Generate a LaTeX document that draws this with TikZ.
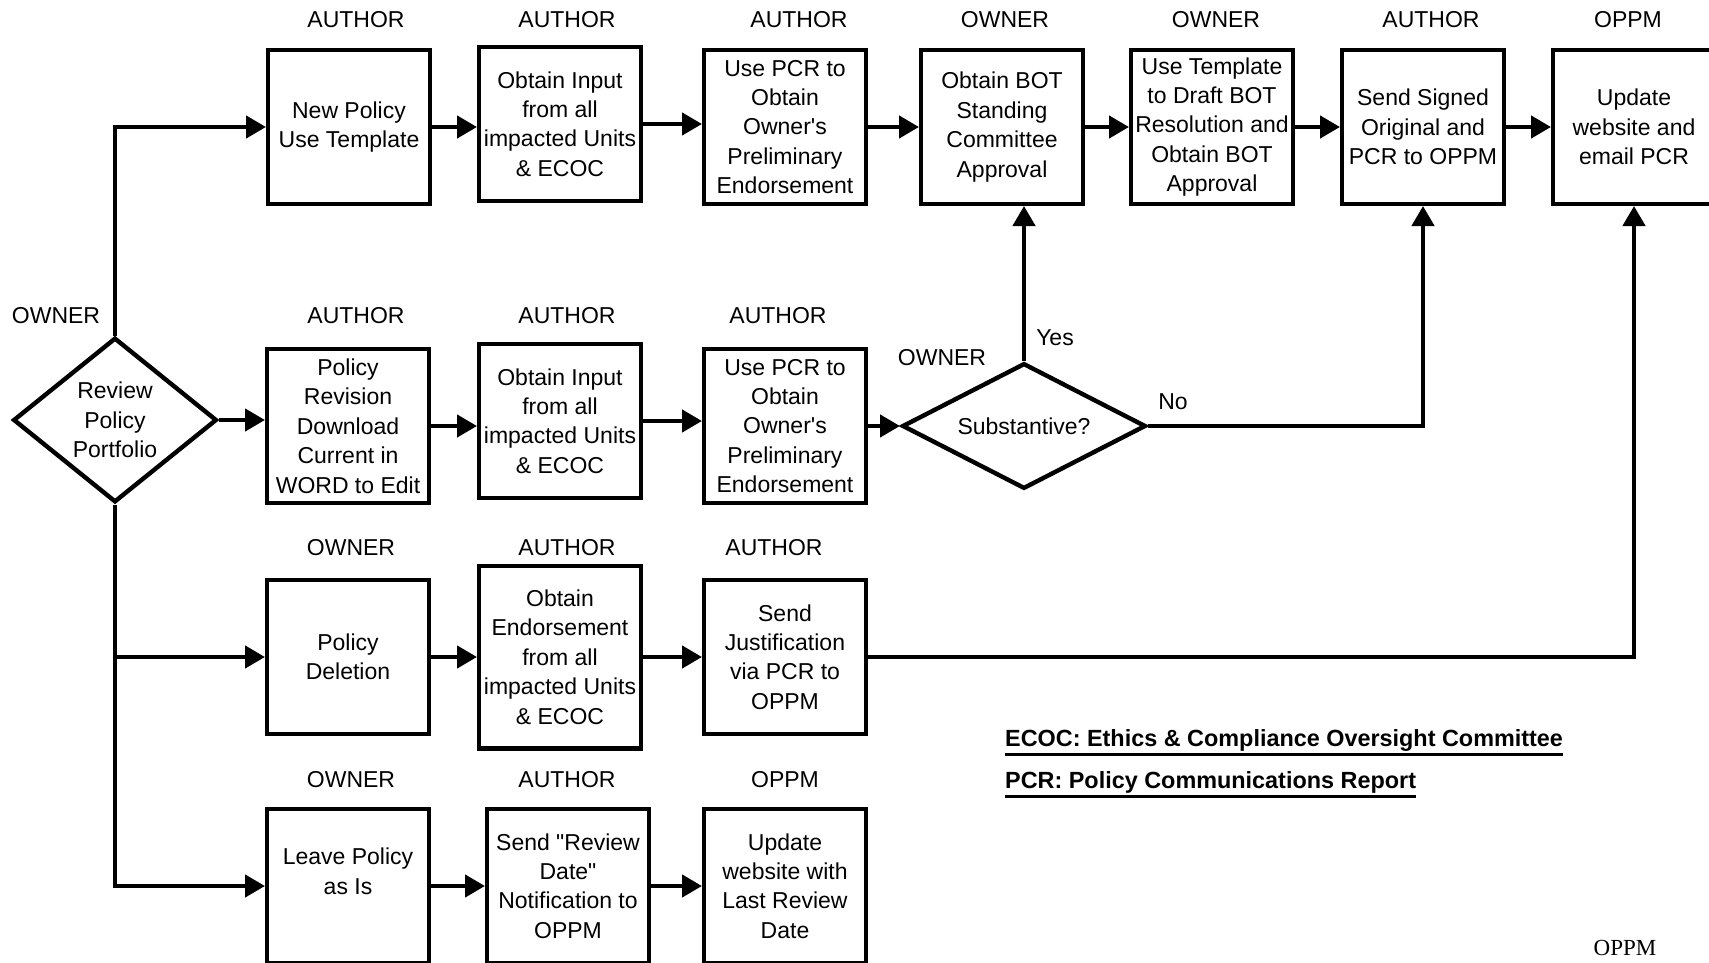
\documentclass[tikz,border=0pt]{standalone}
\usepackage{fontspec}
\setmainfont{Liberation Sans}
\newfontfamily\timesfont{Liberation Serif}
\usetikzlibrary{shapes.geometric,arrows.meta}
\newcommand\ulthick[1]{\setbox0\hbox{#1}\rlap{\rule[-5pt]{\wd0}{1.4pt}}\box0}

\begin{document}
\begin{tikzpicture}[x=0.5pt,y=-0.5pt,line width=2.2pt,
 font=\fontsize{11.5pt}{14.7pt}\selectfont,
 >={Triangle[length=10pt,width=11pt]},
 s/.style={draw,align=center,inner sep=0pt,minimum width=80.8pt,minimum height=76.8pt},
 d/.style={draw,diamond,align=center,inner sep=0pt},
 r/.style={inner sep=0pt}]
\useasboundingbox (0,0) rectangle (1709,963);
\clip (0,0) rectangle (1709,963);
% top row: new policy
\node[s](np) at (349,127){New Policy\\Use Template};
\node[s](oi) at (560,124){Obtain Input\\from all\\impacted Units\\\& ECOC};
\node[s](up) at (785,127){Use PCR to\\Obtain\\Owner\textquotesingle s\\Preliminary\\Endorsement};
\node[s](bot) at (1002,127){Obtain BOT\\Standing\\Committee\\Approval};
\node[s](tpl) at (1212,127){Use Template\\to Draft BOT\\Resolution and\\Obtain BOT\\Approval};
\node[s](sso) at (1423,127){Send Signed\\Original and\\PCR to OPPM};
\node[s](web) at (1634,127){Update\\website and\\email PCR};
% second row: revision
\node[d,aspect=1.23,minimum width=101.8pt,minimum height=82.3pt](rev) at (115,420){Review\\Policy\\Portfolio};
\node[s](pr) at (348,426){Policy\\Revision\\Download\\Current in\\WORD to Edit};
\node[s](oi2) at (560,421){Obtain Input\\from all\\impacted Units\\\& ECOC};
\node[s](up2) at (785,426){Use PCR to\\Obtain\\Owner\textquotesingle s\\Preliminary\\Endorsement};
\node[d,aspect=1.92,minimum width=121.8pt,minimum height=62.8pt](sub) at (1024,426){Substantive?};
% third row: deletion
\node[s](pd) at (348,657){Policy\\Deletion};
\node[s,minimum height=91.3pt](oe) at (560,657){Obtain\\Endorsement\\from all\\impacted Units\\\& ECOC};
\node[s](sj) at (785,657){Send\\Justification\\via PCR to\\OPPM};
% fourth row: leave as is
\node[s](lp) at (348,886){Leave Policy\\as Is\\\mbox{}};
\node[s](sr) at (568,886){Send \textquotedbl Review\\Date\textquotedbl\\Notification to\\OPPM};
\node[s](uw) at (785,886){Update\\website with\\Last Review\\Date};
% roles
\node[r](r1) at (356,20){AUTHOR};\node[r](r2) at (567,20){AUTHOR};\node[r](r3) at (799,20){AUTHOR};
\node[r](r4) at (1005,20){OWNER};\node[r](r5) at (1216,20){OWNER};\node[r](r6) at (1431,20){AUTHOR};
\node[r](r7) at (1628,20){OPPM};
\node[r](r8) at (56,316){OWNER};\node[r](r9) at (356,316){AUTHOR};\node[r](r10) at (567,316){AUTHOR};
\node[r](r11) at (778,316){AUTHOR};\node[r](r12) at (942,358){OWNER};
\node[r](r13) at (351,548){OWNER};\node[r](r14) at (567,548){AUTHOR};\node[r](r15) at (774,548){AUTHOR};
\node[r](r16) at (351,780){OWNER};\node[r](r17) at (567,780){AUTHOR};\node[r](r18) at (785,780){OPPM};
\node[r](yes) at (1055,338){Yes};\node[r](no) at (1173,402){No};
% legend
\node[r,anchor=base west,font=\fontsize{11.7pt}{14pt}\selectfont\bfseries](ecoc) at (1003,746){\ulthick{ECOC: Ethics \& Compliance Oversight Committee}};
\node[r,anchor=base west,font=\fontsize{11.7pt}{14pt}\selectfont\bfseries](pcr) at (1003,788){\ulthick{PCR: Policy Communications Report}};
\node[r,font=\timesfont\fontsize{11.5pt}{14pt}\selectfont](foot) at (1625,948){OPPM};
% connectors
\draw[->](rev.north)|-(np.west);\draw[->](rev.east)--(rev.east-|pr.west);
\draw[->](rev.south)|-(pd.west);\draw[->](rev.south)|-(lp.west);
\draw[->](np.east)--(np.east-|oi.west);\draw[->](oi.east)--(oi.east-|up.west);
\draw[->](up.east)--(up.east-|bot.west);\draw[->](bot.east)--(bot.east-|tpl.west);
\draw[->](tpl.east)--(tpl.east-|sso.west);\draw[->](sso.east)--(sso.east-|web.west);
\draw[->](pr.east)--(pr.east-|oi2.west);\draw[->](oi2.east)--(oi2.east-|up2.west);
\draw[->](up2.east)--(up2.east-|sub.west);
\draw[->](sub.north)--(sub.north|-bot.south);\draw[->](sub.east)-|(sso.south);
\draw[->](pd.east)--(pd.east-|oe.west);\draw[->](oe.east)--(oe.east-|sj.west);
\draw[->](sj.east)-|(web.south);
\draw[->](lp.east)--(lp.east-|sr.west);\draw[->](sr.east)--(sr.east-|uw.west);
\end{tikzpicture}
\end{document}
